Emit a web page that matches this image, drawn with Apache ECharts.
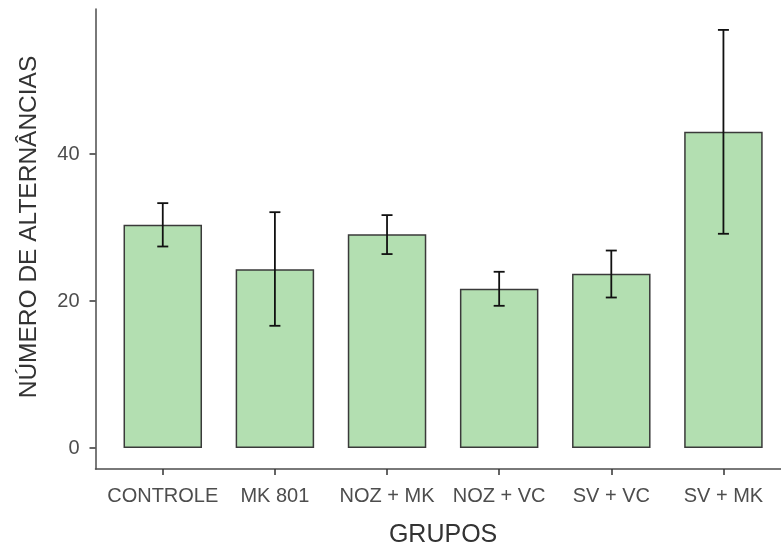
<!DOCTYPE html>
<html>
<head>
<meta charset="utf-8">
<script src="https://cdn.jsdelivr.net/npm/echarts@6/dist/echarts.min.js"></script>
<style>
  html, body { margin: 0; padding: 0; background: #fff; }
  #chart { width: 781px; height: 544px; }
</style>
</head>
<body>
<div id="chart"></div>
<script>
// Groups and mean number of alternations with error-bar bounds
const grupos = ['CONTROLE', 'MK 801', 'NOZ + MK', 'NOZ + VC', 'SV + VC', 'SV + MK'];
const medias = [30.38, 24.35, 29.1, 21.67, 23.71, 43.03];
const limiteInferior = [27.43, 16.64, 26.4, 19.36, 20.49, 29.16];
const limiteSuperior = [33.33, 32.1, 31.7, 23.99, 26.88, 56.9];
const ticksY = [0, 20, 40];

const yMin = -2.845;
const yMax = 59.745;
const fonte = '"Liberation Sans", Helvetica, Arial, sans-serif';

const chart = echarts.init(document.getElementById('chart'), null, { renderer: 'canvas' });

const errorData = grupos.map((g, i) => [i, limiteInferior[i], limiteSuperior[i]]);

chart.setOption({
  animation: false,
  backgroundColor: '#ffffff',
  grid: [
    // plotting grid: category slots
    { left: 106.7, right: 1.5, top: 9, bottom: 75, outerBoundsMode: 'none', containLabel: false },
    // wider grid used only to draw the full-length x axis line
    { left: 95.5, right: 0, top: 9, bottom: 75, outerBoundsMode: 'none', containLabel: false }
  ],
  xAxis: [
    {
      type: 'category',
      gridIndex: 0,
      data: grupos,
      boundaryGap: true,
      position: 'bottom',
      axisLine: { show: false, onZero: false },
      axisTick: { show: true, alignWithLabel: true, length: 6, lineStyle: { color: '#333333', width: 1.5 } },
      axisLabel: { color: '#4d4d4d', fontFamily: fonte, fontSize: 20, margin: 17, interval: 0 },
      name: 'GRUPOS',
      nameLocation: 'middle',
      nameGap: 54,
      nameTextStyle: { color: '#333333', fontFamily: fonte, fontSize: 25 },
      splitLine: { show: false }
    },
    {
      type: 'value',
      gridIndex: 1,
      min: 0, max: 1,
      axisLine: { show: true, onZero: false, lineStyle: { color: '#4d4d4d', width: 1.5 } },
      axisTick: { show: false },
      axisLabel: { show: false },
      splitLine: { show: false }
    }
  ],
  yAxis: [
    {
      type: 'value',
      gridIndex: 0,
      min: yMin,
      max: yMax,
      position: 'left',
      offset: 11.2,
      axisLine: { show: true, onZero: false, lineStyle: { color: '#4d4d4d', width: 1.5 } },
      axisTick: { show: true, length: 6, customValues: ticksY, lineStyle: { color: '#333333', width: 1.5 } },
      axisLabel: { color: '#4d4d4d', fontFamily: fonte, fontSize: 20, margin: 16, customValues: ticksY },
      splitLine: { show: false },
      name: 'NÚMERO DE ALTERNÂNCIAS',
      nameLocation: 'middle',
      nameGap: 54,
      nameRotate: 90,
      nameTextStyle: { color: '#333333', fontFamily: fonte, fontSize: 24.5, padding: [0, 0, 0, 24] }
    },
    {
      type: 'value',
      gridIndex: 1,
      min: 0, max: 1,
      show: false
    }
  ],
  series: [
    {
      type: 'bar',
      xAxisIndex: 0,
      yAxisIndex: 0,
      data: medias,
      barWidth: '70%',
      itemStyle: { color: '#b3dfb1', borderColor: '#3a3a3a', borderWidth: 1.5 },
      silent: true
    },
    {
      type: 'custom',
      xAxisIndex: 0,
      yAxisIndex: 0,
      data: errorData,
      z: 10,
      renderItem: function (params, api) {
        const x = api.value(0);
        const lo = api.coord([x, api.value(1)]);
        const hi = api.coord([x, api.value(2)]);
        const half = 5.5;
        const style = { stroke: '#111111', lineWidth: 1.8 };
        return {
          type: 'group',
          children: [
            { type: 'line', shape: { x1: lo[0], y1: lo[1], x2: hi[0], y2: hi[1] }, style: style },
            { type: 'line', shape: { x1: hi[0] - half, y1: hi[1], x2: hi[0] + half, y2: hi[1] }, style: style },
            { type: 'line', shape: { x1: lo[0] - half, y1: lo[1], x2: lo[0] + half, y2: lo[1] }, style: style }
          ]
        };
      }
    }
  ]
});
</script>
</body>
</html>
